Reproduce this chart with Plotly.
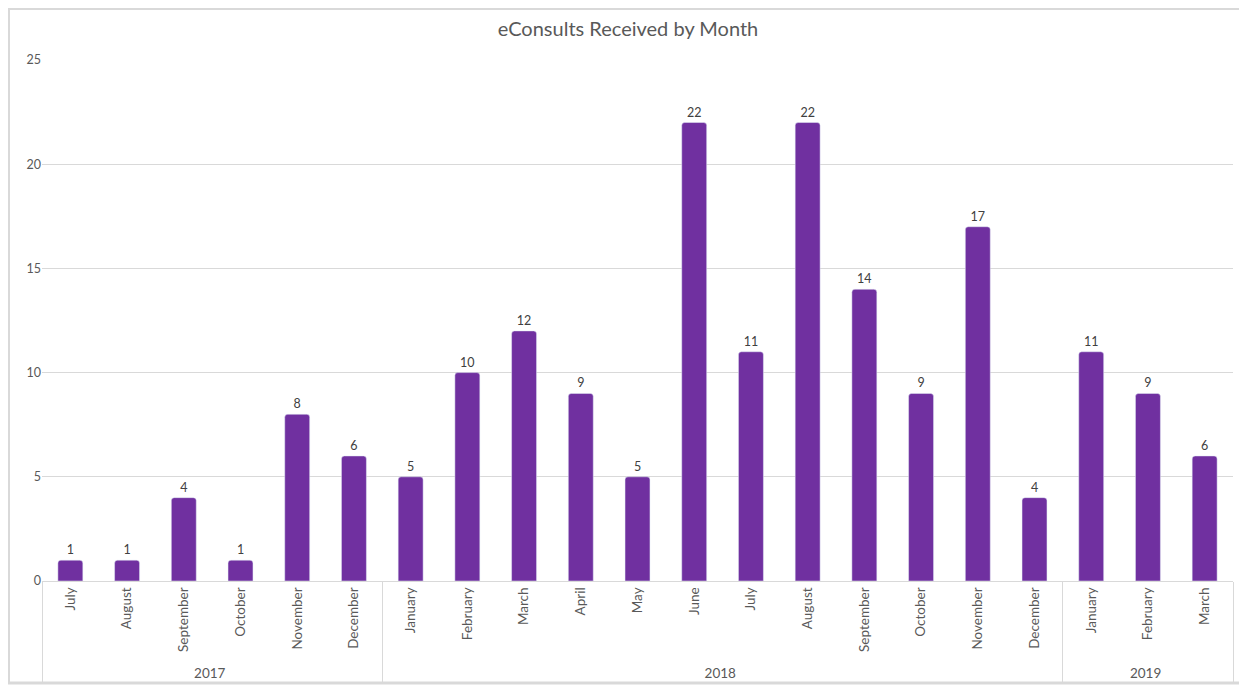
import plotly.graph_objects as go

years = ["2017"] * 6 + ["2018"] * 12 + ["2019"] * 3
months = ["July", "August", "September", "October", "November", "December",
          "January", "February", "March", "April", "May", "June", "July",
          "August", "September", "October", "November", "December",
          "January", "February", "March"]
values = [1, 1, 4, 1, 8, 6, 5, 10, 12, 9, 5, 22, 11, 22, 14, 9, 17, 4, 11, 9, 6]

# plotly orders inner categories by first appearance across all groups;
# make repeated month names distinct (invisible zero-width space) so each
# year keeps its own month order
seen = {}
month_keys = []
for y, m in zip(years, months):
    n = seen.get(m, 0)
    month_keys.append(m + "\u200b" * n)
    seen[m] = n + 1

W, H = 1239, 677
ml, mr, mt, mb = 34, 14, 52, 104

fig = go.Figure(go.Bar(
    x=[years, month_keys], y=values,
    marker=dict(color="#7030A0", cornerradius=3),
    text=[str(v) for v in values], textposition="outside",
    textfont=dict(size=12.5, color="#404040"),
    cliponaxis=False,
))

pw = W - ml - mr
ph = H - mt - mb
fx = lambda px: (px - ml) / pw
fy = lambda py: 1 - (py - mt) / ph
fig.add_shape(type="rect", xref="paper", yref="paper",
              x0=fx(0.5), x1=fx(1238), y0=fy(675), y1=fy(0.5),
              line=dict(color="#D9D9D9", width=3), layer="below")

fig.update_layout(
    width=W, height=H,
    margin=dict(l=ml, r=mr, t=mt, b=mb, autoexpand=False),
    paper_bgcolor="white", plot_bgcolor="white",
    font=dict(family="Lato, Liberation Sans, sans-serif", size=12, color="#595959"),
    title=dict(text="eConsults Received by Month", x=620 / W, xanchor="center",
               xref="container", y=1 - 21 / H, yanchor="middle",
               font=dict(size=20, color="#595959")),
    bargap=0.56,
    showlegend=False,
)
fig.update_yaxes(range=[0, 25], dtick=5, showgrid=True, gridcolor="#D9D9D9",
                 zeroline=False, showline=False, ticks="", ticklen=0,
                 automargin=False,
                 tickfont=dict(size=12.5, color="#595959"))
fig.update_xaxes(tickangle=-90, showline=True, linecolor="#D9D9D9",
                 showdividers=True, dividercolor="#D9D9D9", dividerwidth=1,
                 automargin=False,
                 tickfont=dict(size=13.5, color="#595959"), ticks="")

fig.write_html("out.html")
